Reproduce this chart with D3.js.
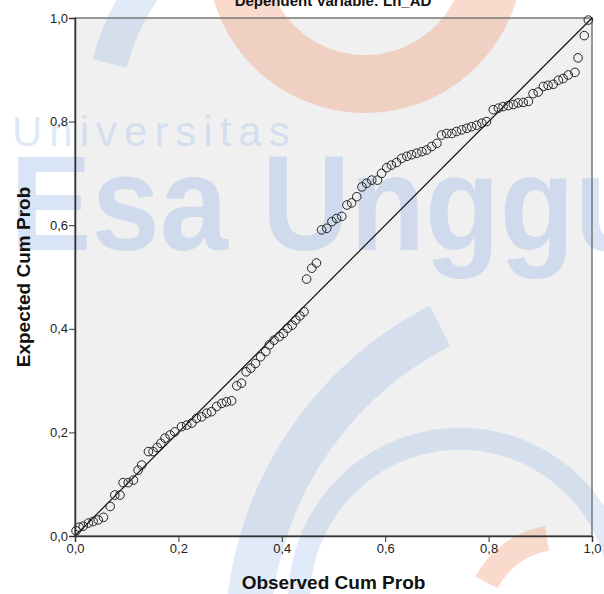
<!DOCTYPE html>
<html>
<head>
<meta charset="UTF-8">
<title>Normal P-P Plot</title>
<script src="https://d3js.org/d3.v7.min.js"></script>
<style>
  body { margin: 0; background: #fff; font-family: "Liberation Sans", Arial, sans-serif; }
  .tick text { font-size: 13px; fill: #222; font-family: "Liberation Sans", Arial, sans-serif; }
</style>
</head>
<body>
<svg width="604" height="594"></svg>
<script>
// observed cum prob / expected cum prob
const observed = [0.002,0.008,0.016,0.026,0.035,0.045,0.055,0.068,0.077,0.087,0.093,0.103,0.113,0.122,0.129,0.142,0.151,0.159,0.166,0.174,0.184,0.193,0.206,0.216,0.226,0.235,0.245,0.255,0.264,0.274,0.284,0.293,0.303,0.313,0.322,0.331,0.340,0.349,0.359,0.369,0.376,0.385,0.395,0.403,0.411,0.420,0.427,0.435,0.443,0.448,0.458,0.467,0.477,0.487,0.497,0.506,0.516,0.526,0.535,0.545,0.555,0.564,0.574,0.585,0.593,0.603,0.612,0.622,0.632,0.642,0.651,0.661,0.671,0.680,0.690,0.700,0.709,0.719,0.729,0.738,0.748,0.758,0.767,0.777,0.787,0.796,0.809,0.819,0.828,0.838,0.848,0.857,0.867,0.877,0.886,0.896,0.906,0.915,0.925,0.935,0.944,0.954,0.967,0.973,0.985,0.993];
const expected = [0.010,0.017,0.019,0.025,0.028,0.031,0.036,0.057,0.079,0.079,0.103,0.103,0.108,0.127,0.137,0.163,0.163,0.171,0.179,0.189,0.195,0.201,0.211,0.214,0.218,0.227,0.230,0.237,0.240,0.250,0.256,0.259,0.261,0.290,0.295,0.317,0.324,0.333,0.346,0.356,0.369,0.378,0.385,0.391,0.401,0.407,0.417,0.425,0.433,0.496,0.517,0.527,0.591,0.594,0.607,0.613,0.617,0.639,0.643,0.655,0.674,0.681,0.687,0.687,0.700,0.711,0.716,0.721,0.729,0.733,0.736,0.739,0.742,0.745,0.752,0.758,0.774,0.777,0.777,0.781,0.784,0.787,0.790,0.793,0.797,0.800,0.823,0.826,0.829,0.831,0.833,0.836,0.837,0.839,0.854,0.857,0.868,0.870,0.872,0.880,0.883,0.890,0.895,0.923,0.966,0.996];
const tickValues = [0, 0.2, 0.4, 0.6, 0.8, 1.0];
const tickLabels = ["0,0", "0,2", "0,4", "0,6", "0,8", "1,0"];

const points = observed.map((o, i) => ({ x: o, y: expected[i] }));

const svg = d3.select("svg");
const margin = { left: 75, right: 12, top: 18, bottom: 58 };
const width = 604 - margin.left - margin.right;
const height = 594 - margin.top - margin.bottom;

const x = d3.scaleLinear().domain([0, 1]).range([margin.left, margin.left + width]);
const y = d3.scaleLinear().domain([0, 1]).range([margin.top + height, margin.top]);

// plot background
svg.append("rect")
  .attr("x", margin.left).attr("y", margin.top)
  .attr("width", width).attr("height", height)
  .attr("fill", "#f0f0f0");

// watermark (logo arcs + university name)
const wm = svg.append("g").attr("pointer-events", "none");
const ring = d3.arc();
const orange = "rgba(240,140,100,0.32)", blue = "rgba(120,160,225,0.22)";
wm.append("path")
  .attr("transform", "translate(365,-45)")
  .attr("d", ring({ innerRadius: 100, outerRadius: 158, startAngle: Math.PI * 0.5, endAngle: Math.PI * 1.45 }))
  .attr("fill", orange);
wm.append("path")
  .attr("transform", "translate(460,600)")
  .attr("d", ring({ innerRadius: 150, outerRadius: 172, startAngle: -Math.PI * 0.55, endAngle: Math.PI * 0.45 }))
  .attr("fill", blue);
wm.append("path")
  .attr("transform", "translate(600,640)")
  .attr("d", ring({ innerRadius: 330, outerRadius: 375, startAngle: -Math.PI * 0.5, endAngle: -Math.PI * 0.15 }))
  .attr("fill", blue);
wm.append("path")
  .attr("transform", "translate(330,120)")
  .attr("d", ring({ innerRadius: 210, outerRadius: 245, startAngle: -Math.PI * 0.42, endAngle: -Math.PI * 0.2 }))
  .attr("fill", blue);
wm.append("path")
  .attr("transform", "translate(560,620)")
  .attr("d", ring({ innerRadius: 70, outerRadius: 95, startAngle: -Math.PI * 0.35, endAngle: -Math.PI * 0.05 }))
  .attr("fill", orange);
wm.append("text")
  .attr("x", 12).attr("y", 146)
  .attr("font-size", 42).attr("letter-spacing", 7)
  .attr("font-family", "Liberation Sans, Arial, sans-serif")
  .attr("fill", "rgba(150,185,235,0.32)")
  .text("Universitas");
wm.append("text")
  .attr("transform", "translate(10,250) scale(0.9,1)")
  .attr("font-size", 136).attr("font-weight", "bold")
  .attr("font-family", "Liberation Sans, Arial, sans-serif")
  .attr("fill", "rgba(140,175,230,0.33)")
  .text("Esa Unggul");

// frame
svg.append("rect")
  .attr("x", margin.left).attr("y", margin.top)
  .attr("width", width).attr("height", height)
  .attr("fill", "none").attr("stroke", "#777").attr("stroke-width", 1.5);

// reference line
svg.append("line")
  .attr("x1", x(0)).attr("y1", y(0))
  .attr("x2", x(1)).attr("y2", y(1))
  .attr("stroke", "#111").attr("stroke-width", 1.2);

// points
svg.append("g").selectAll("circle")
  .data(points)
  .enter().append("circle")
  .attr("cx", d => x(d.x))
  .attr("cy", d => y(d.y))
  .attr("r", 4.3)
  .attr("fill", "none")
  .attr("stroke", "#222")
  .attr("stroke-width", 1);

// axes
const fmt = d => tickLabels[tickValues.indexOf(d)];
const xAxis = svg.append("g")
  .attr("transform", `translate(0,${margin.top + height})`)
  .call(d3.axisBottom(x).tickValues(tickValues).tickFormat(fmt).tickSize(6).tickPadding(2));
const yAxis = svg.append("g")
  .attr("transform", `translate(${margin.left},0)`)
  .call(d3.axisLeft(y).tickValues(tickValues).tickFormat(fmt).tickSize(6).tickPadding(1));
[xAxis, yAxis].forEach(a => {
  a.select(".domain").attr("stroke", "#333").attr("stroke-width", 1.5);
  a.selectAll(".tick line").attr("stroke", "#333");
});

// title (cut at top, as in the picture)
svg.append("text")
  .attr("x", 333).attr("y", 6)
  .attr("text-anchor", "middle")
  .attr("font-size", 15).attr("font-weight", "bold")
  .attr("fill", "#111")
  .text("Dependent Variable: Ln_AD");

// axis titles
svg.append("text")
  .attr("x", margin.left + width / 2).attr("y", 589)
  .attr("text-anchor", "middle")
  .attr("font-size", 19).attr("font-weight", "bold").attr("fill", "#111")
  .text("Observed Cum Prob");
svg.append("text")
  .attr("transform", `translate(30,${margin.top + height / 2}) rotate(-90)`)
  .attr("text-anchor", "middle")
  .attr("font-size", 19).attr("font-weight", "bold").attr("fill", "#111")
  .text("Expected Cum Prob");
</script>
</body>
</html>
